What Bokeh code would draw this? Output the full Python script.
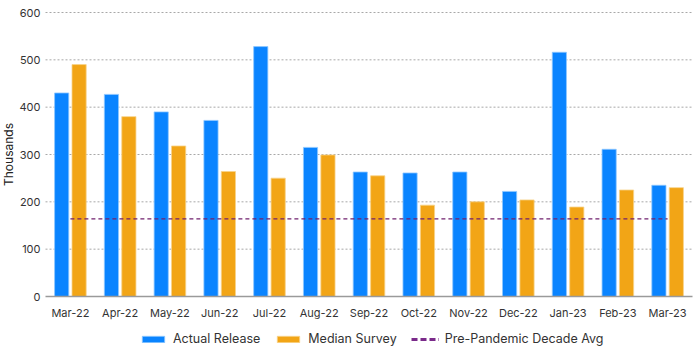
import math
from bokeh.plotting import figure
from bokeh.models import ColumnDataSource, Legend, LegendItem, Range1d
from bokeh.core.properties import value
from bokeh.transform import dodge
from bokeh.embed import file_html
from bokeh.resources import INLINE

months = ["Mar-22", "Apr-22", "May-22", "Jun-22", "Jul-22", "Aug-22", "Sep-22",
          "Oct-22", "Nov-22", "Dec-22", "Jan-23", "Feb-23", "Mar-23"]
actual_release = [430, 427, 390, 372, 528, 315, 263, 261, 263, 222, 516, 311, 235]
median_survey = [490, 380, 318, 264, 250, 299, 255, 193, 200, 204, 189, 225, 230]
pre_pandemic_avg = 164
y_ticks = [0, 100, 200, 300, 400, 500, 600]
y_axis_title = "Thousands"

FONT = "Inter"
BLUE = "#0A84FF"
ORANGE = "#F2A516"
PURPLE = "#7A2A8A"
TXT = "#333333"

idx = list(range(len(months)))
n = len(months)
src = ColumnDataSource(dict(idx=idx, month=months, actual=actual_release, survey=median_survey))

W, H = 700, 356
left_px, right_px, top_px, zero_px = 45, 692, 12, 296
unit_x = (right_px - left_px) / n
unit_y = (zero_px - top_px) / y_ticks[-1]
x0, x1 = -0.5, n - 0.5
x_range = Range1d(x0 - left_px / unit_x, x1 + (W - right_px) / unit_x)
y_range = Range1d(-(H - zero_px) / unit_y, y_ticks[-1] + top_px / unit_y)

p = figure(x_range=x_range, y_range=y_range, width=W, height=H,
           min_border=0, output_backend="svg", toolbar_location=None)
p.axis.visible = False
p.grid.visible = False
p.outline_line_color = None

# dotted gridlines
grid_y = y_ticks[1:]
p.segment(x0=[x0] * len(grid_y), x1=[x1] * len(grid_y), y0=grid_y, y1=grid_y,
          line_color="#A8A8A8", line_width=1, line_dash="2 2")

r1 = p.vbar(x=dodge("idx", -0.175), top="actual", width=0.285, source=src,
            fill_color=BLUE, line_color="#8FC8FF", line_width=0.8)
r2 = p.vbar(x=dodge("idx", 0.175), top="survey", width=0.285, source=src,
            fill_color=ORANGE, line_color="#F8D38A", line_width=0.8)
p.line(x=[idx[0], idx[-1]], y=[pre_pandemic_avg, pre_pandemic_avg],
       line_color="#70206E", line_width=1.3, line_dash="4 3")

# x axis line
p.segment(x0=[x0], x1=[x1], y0=[0], y1=[0], line_color="#9A9A9A", line_width=1.5)

# tick labels
p.text(x=idx, y=[0] * n, text=months, y_offset=9, text_align="center",
       text_baseline="top", text_font=value(FONT), text_font_size="11px", text_color=TXT)
p.text(x=[x0] * len(y_ticks), y=y_ticks, text=[str(t) for t in y_ticks], x_offset=-5,
       text_align="right", text_baseline="middle", text_font=value(FONT),
       text_font_size="11px", text_color=TXT)
p.text(x=[x0], y=[y_ticks[-1] / 2], text=[y_axis_title], x_offset=-37, angle=math.pi / 2,
       text_align="center", text_baseline="middle", text_font=value(FONT),
       text_font_size="12px", text_color="#222222")

leg_dash = p.line(x=[idx[0]], y=[pre_pandemic_avg], line_color=PURPLE, line_width=3,
                  line_dash="6 3", visible=False)
legend = Legend(items=[
    LegendItem(label="Actual Release", renderers=[r1]),
    LegendItem(label="Median Survey", renderers=[r2]),
    LegendItem(label="Pre-Pandemic Decade Avg", renderers=[leg_dash]),
], orientation="horizontal", location=(139, 10),
    label_text_font=FONT, label_text_font_size="12.5px", label_text_color=TXT,
    glyph_width=28, glyph_height=8, label_height=15, spacing=14, label_standoff=6,
    border_line_color=None, background_fill_alpha=0, padding=0, margin=0)
p.add_layout(legend)

open("out.html", "w").write(file_html(p, INLINE))
